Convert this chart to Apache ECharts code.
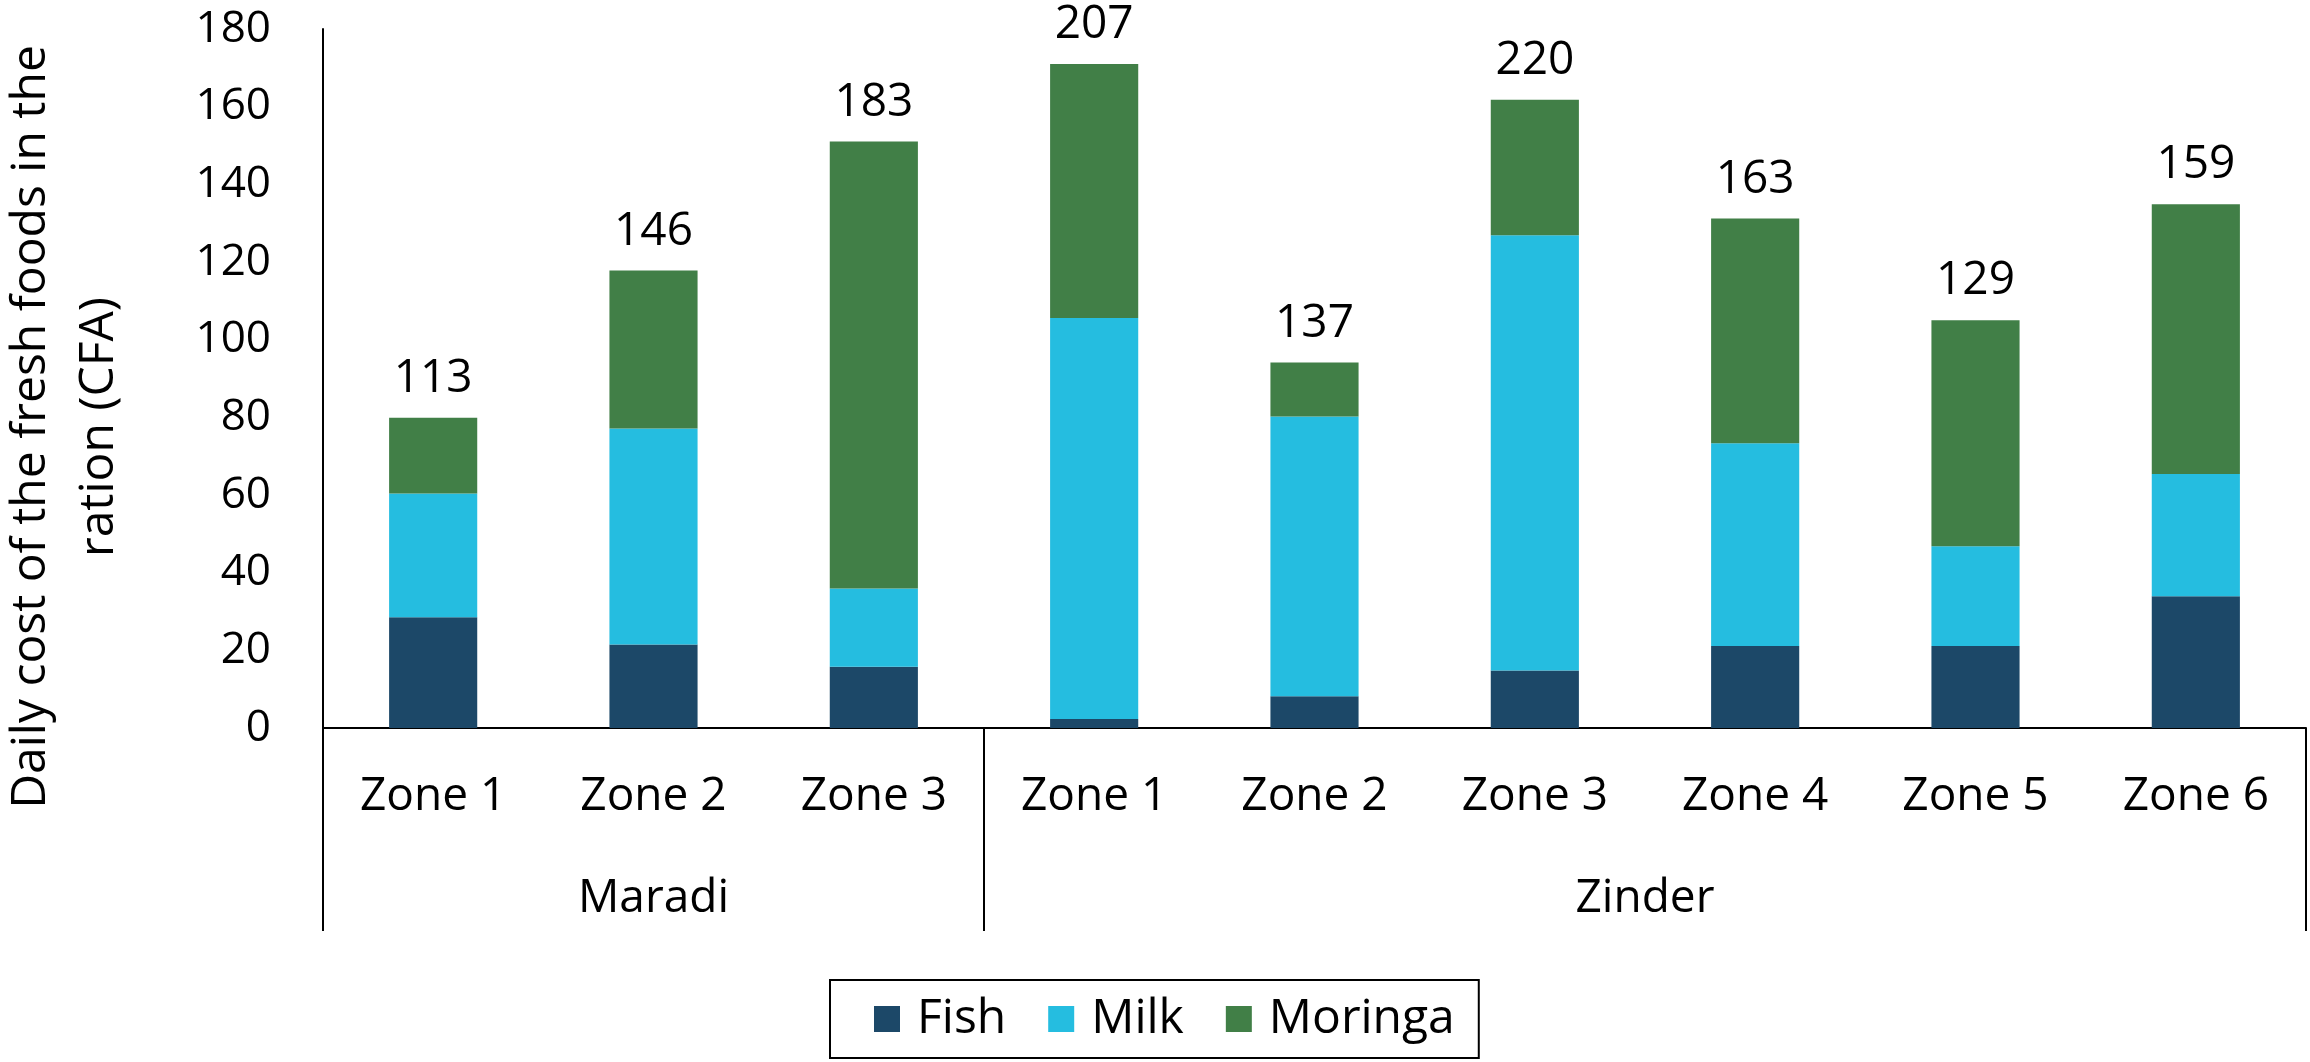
<!DOCTYPE html>
<html>
<head>
<meta charset="utf-8">
<style>
  html, body { margin: 0; padding: 0; background: #fff; }
  #chart { width: 2310px; height: 1062px; }
</style>
</head>
<body>
<div id="chart"></div>
<script src="https://cdn.jsdelivr.net/npm/echarts@6/dist/echarts.min.js"></script>
<script>
// zones along the axis, grouped by region
var zones = ['Zone 1', 'Zone 2', 'Zone 3', 'Zone 1', 'Zone 2', 'Zone 3', 'Zone 4', 'Zone 5', 'Zone 6'];
var regions = ['Maradi', 'Zinder'];
var regionSizes = [3, 6];

// stacked costs (CFA)
var fish = [28.5, 21.5, 15.8, 2.3, 8.2, 14.8, 21.1, 21.1, 33.9];
var milk = [31.9, 55.6, 20.1, 103.3, 72.0, 112.1, 52.2, 25.7, 31.5];
var moringa = [19.5, 40.7, 115.1, 65.4, 13.9, 34.9, 57.9, 58.2, 69.5];
// totals printed above the bars
var totals = [113, 146, 183, 207, 137, 220, 163, 129, 159];

var FONT = '"Open Sans", "Noto Sans", sans-serif';

// group boundaries and centres for the region level
var bounds = [0];
var centers = [];
for (var i = 0; i < regionSizes.length; i++) {
    var start = bounds[bounds.length - 1];
    centers.push(start + regionSizes[i] / 2);
    bounds.push(start + regionSizes[i]);
}

var chart = echarts.init(document.getElementById('chart'));

var option = {
    backgroundColor: '#fff',
    animation: false,
    grid: { left: 323, right: 4, top: 29, bottom: 334 },
    legend: {
        data: ['Fish', 'Milk', 'Moringa'],
        left: 830,
        top: 980,
        itemWidth: 26,
        itemHeight: 26,
        itemGap: 42,
        icon: 'rect',
        padding: [15, 24, 15, 44],
        borderColor: '#000',
        borderWidth: 2,
        textStyle: { fontFamily: FONT, fontSize: 48, color: '#000', padding: [0, 0, 0, 12] }
    },
    xAxis: [
        {
            type: 'category',
            data: zones,
            axisLine: { lineStyle: { color: '#000', width: 2 } },
            axisTick: { show: false },
            axisLabel: { fontFamily: FONT, fontSize: 46, color: '#000', margin: 46, interval: 0 }
        },
        {
            type: 'value',
            position: 'bottom',
            min: 0,
            max: zones.length,
            axisLine: { show: false },
            splitLine: { show: false },
            axisTick: {
                show: true,
                customValues: bounds,
                length: 203,
                lineStyle: { color: '#000', width: 2 }
            },
            axisLabel: {
                customValues: centers,
                fontFamily: FONT, fontSize: 46, color: '#000', margin: 148,
                formatter: function (v) {
                    var k = centers.indexOf(v);
                    return k >= 0 ? regions[k] : '';
                }
            }
        }
    ],
    yAxis: {
        type: 'value',
        min: 0,
        max: 180,
        interval: 20,
        axisLine: { show: true, lineStyle: { color: '#000', width: 2 } },
        axisTick: { show: false },
        splitLine: { show: false },
        axisLabel: { fontFamily: FONT, fontSize: 44, color: '#000', margin: 52 }
    },
    graphic: [{
        type: 'text',
        x: 65,
        y: 427,
        rotation: Math.PI / 2,
        style: {
            text: 'Daily cost of the fresh foods in the\nration (CFA)',
            font: '48px ' + FONT,
            fill: '#000',
            align: 'center',
            verticalAlign: 'middle',
            lineHeight: 68
        }
    }],
    series: [
        {
            name: 'Fish', type: 'bar', stack: 'cost', barWidth: '40%',
            itemStyle: { color: '#1c4868' },
            data: fish
        },
        {
            name: 'Milk', type: 'bar', stack: 'cost', barWidth: '40%',
            itemStyle: { color: '#25bde0' },
            data: milk
        },
        {
            name: 'Moringa', type: 'bar', stack: 'cost', barWidth: '40%',
            itemStyle: { color: '#417f47' },
            label: {
                show: true,
                position: 'top',
                distance: 16,
                fontFamily: FONT,
                fontSize: 46,
                color: '#000',
                formatter: function (p) { return totals[p.dataIndex]; }
            },
            data: moringa
        }
    ]
};

chart.setOption(option);
</script>
</body>
</html>
